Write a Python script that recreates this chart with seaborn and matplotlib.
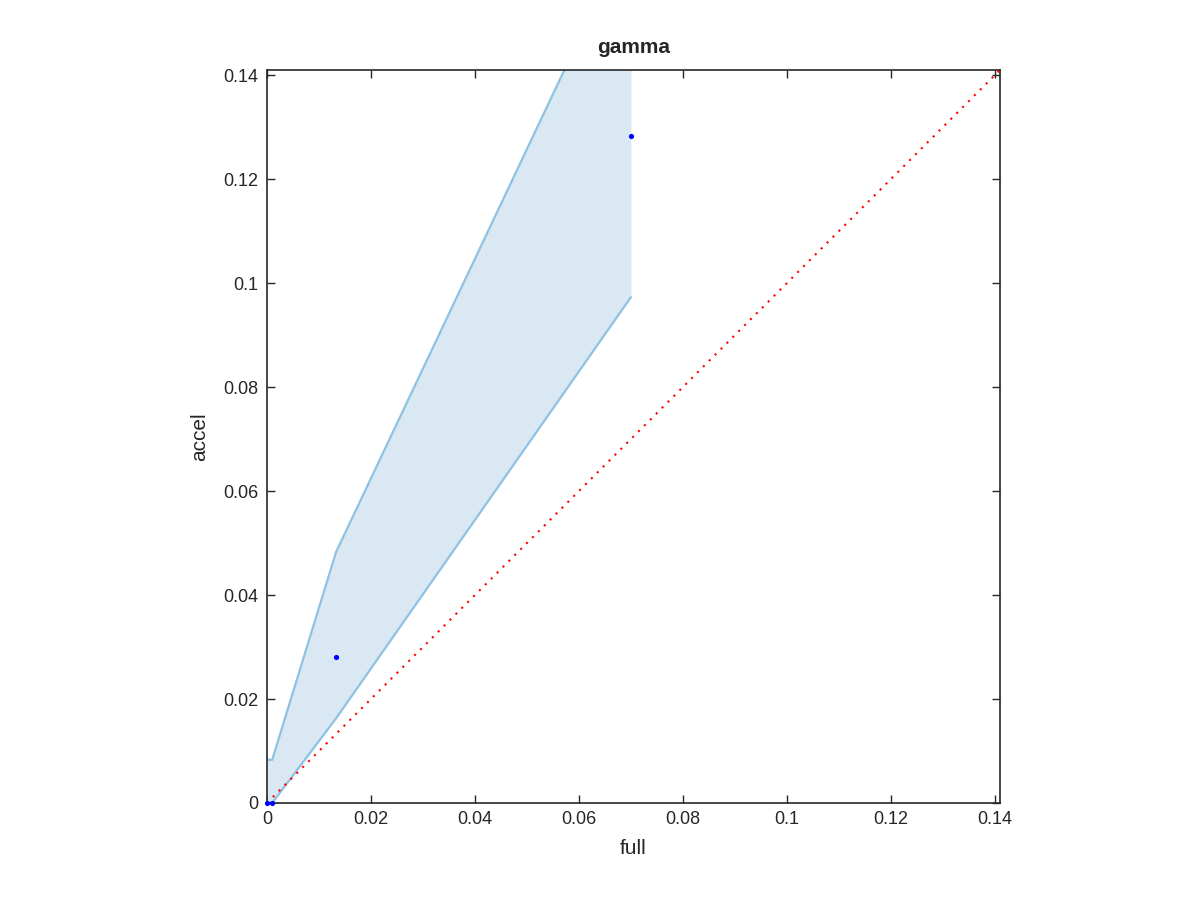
import numpy as np
import pandas as pd
import seaborn as sns
import matplotlib
matplotlib.use("Agg")
import matplotlib.pyplot as plt

# band and point values
band_x = [0.0, 0.001, 0.0133, 0.07]
band_upper = [0.0083, 0.0083, 0.0483, 0.168]
band_lower = [0.0, 0.0, 0.0163, 0.0973]

point_full = [0.0, 0.001, 0.0133, 0.07]
point_accel = [0.0, 0.0, 0.0281, 0.1283]

diag = [0.0, 0.141]
lim = 0.141
ticks = [0, 0.02, 0.04, 0.06, 0.08, 0.1, 0.12, 0.14]
tick_labels = ["0", "0.02", "0.04", "0.06", "0.08", "0.1", "0.12", "0.14"]

sns.set_style("ticks")
plt.rcParams["font.family"] = ["Liberation Sans", "DejaVu Sans"]

fig = plt.figure(figsize=(12, 9), dpi=100)
ax = fig.add_axes([0.2225, 0.1078, 0.6108, 0.8144])

band = pd.DataFrame({"x": band_x, "upper": band_upper, "lower": band_lower})
ax.fill_between(band["x"], band["lower"], band["upper"], color="#dae8f4", lw=0, zorder=1)
sns.lineplot(data=band, x="x", y="upper", color="#8fc1e3", lw=1.6, ax=ax, zorder=2)
sns.lineplot(data=band, x="x", y="lower", color="#8fc1e3", lw=1.6, ax=ax, zorder=2)

sns.lineplot(x=diag, y=diag, color="red", lw=1.5, linestyle=(0, (1, 3)), ax=ax, zorder=3)
sns.scatterplot(x=point_full, y=point_accel, color="blue", s=14, linewidth=0, ax=ax,
                zorder=4, clip_on=False)

ax.set_xlim(0, lim)
ax.set_ylim(0, lim)
ax.set_xticks(ticks)
ax.set_xticklabels(tick_labels)
ax.set_yticks(ticks)
ax.set_yticklabels(tick_labels)
ax.tick_params(direction="in", length=6, width=1, top=True, right=True,
               labelsize=13, colors="#262626", pad=6)
for s in ax.spines.values():
    s.set_visible(True)
    s.set_color("#262626")
    s.set_linewidth(1.2)

ax.set_xlabel("full", fontsize=15, color="#262626", labelpad=8)
ax.set_ylabel("accel", fontsize=15, color="#262626", labelpad=10)
ax.set_title("gamma", fontsize=15, fontweight="bold", pad=12)

fig.savefig("out.png", dpi=100)
